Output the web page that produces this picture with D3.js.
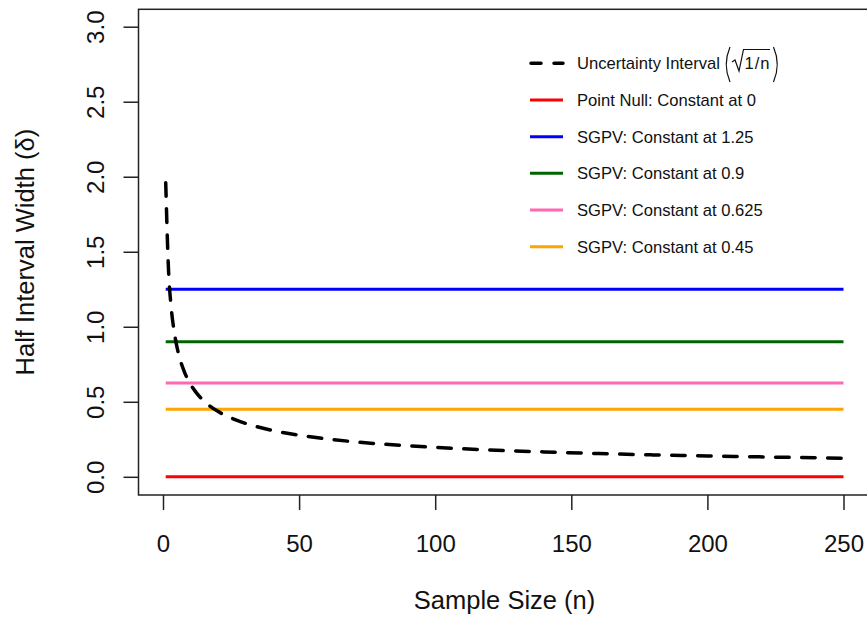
<!DOCTYPE html>
<html>
<head>
<meta charset="utf-8">
<script src="https://cdn.jsdelivr.net/npm/d3@7"></script>
<style>
	body { margin: 0; background: #fff; }
	svg { display: block; font-family: 'Liberation Sans', Arial, Helvetica, sans-serif; }
	.tick line { stroke: #222; stroke-width: 1.5; }
	.tick text { font-size: 24px; fill: #111; }
	.axis-label { font-size: 25.5px; fill: #111; }
	.legend-text { font-size: 16.6px; fill: #111; }
</style>
</head>
<body>
<svg id="chart-svg" width="867" height="621"></svg>
<script>
// values
const X_TICKS = [0, 50, 100, 150, 200, 250];
const Y_TICKS = [0, 0.5, 1, 1.5, 2, 2.5, 3];

// dashed uncertainty curve, read at a few sample sizes
const curveN = [1, 2, 3, 4, 5, 6, 8, 10, 12, 15, 20, 25, 30, 40, 50, 60, 70, 80, 90, 100, 120, 140, 160, 180, 200, 225, 250];
const curveY = [1.96, 1.39, 1.13, 0.98, 0.877, 0.80, 0.693, 0.62, 0.566, 0.506, 0.438, 0.392, 0.358, 0.31, 0.277, 0.253, 0.234, 0.219, 0.207, 0.196, 0.179, 0.166, 0.155, 0.146, 0.139, 0.131, 0.124];

// constant lines
const constNames = ['Point Null: Constant at 0', 'SGPV: Constant at 1.25', 'SGPV: Constant at 0.9', 'SGPV: Constant at 0.625', 'SGPV: Constant at 0.45'];
const constValues = [0, 1.25, 0.9, 0.625, 0.45];
const constColors = ['#ff0000', '#0000ff', '#006400', '#ff69b4', '#ffa500'];
const nRange = [1, 250];

const svg = d3.select('#chart-svg');

const BOX = { left: 138.5, right: 870.6, top: 9.3, bottom: 495 };

const xScale = d3.scaleLinear().domain([0, 250]).range([163, 843.5]);
const yScale = d3.scaleLinear().domain([0, 3]).range([476.8, 26.7]);

// constant lines
constValues.forEach((v, i) => {
	svg
		.append('line')
		.attr('x1', xScale(nRange[0]))
		.attr('x2', xScale(nRange[1]))
		.attr('y1', yScale(v))
		.attr('y2', yScale(v))
		.attr('stroke', constColors[i])
		.attr('stroke-width', 3);
});

// dashed curve
const curveData = curveN.map((n, i) => ({ n: n, y: curveY[i] }));
const line = d3
	.line()
	.x((d) => xScale(d.n))
	.y((d) => yScale(d.y))
	.curve(d3.curveMonotoneX);
svg
	.append('path')
	.datum(curveData)
	.attr('d', line)
	.attr('fill', 'none')
	.attr('stroke', '#000')
	.attr('stroke-width', 3.5)
	.attr('stroke-dasharray', '13.5,12.5')
	.attr('stroke-linecap', 'round');

// box
svg
	.append('rect')
	.attr('x', BOX.left)
	.attr('y', BOX.top)
	.attr('width', BOX.right - BOX.left)
	.attr('height', BOX.bottom - BOX.top)
	.attr('fill', 'none')
	.attr('stroke', '#222')
	.attr('stroke-width', 1.5);

// axes
const xAxis = d3.axisBottom(xScale).tickValues(X_TICKS).tickSize(15).tickFormat(d3.format('d'));
const xG = svg.append('g').attr('transform', 'translate(0, ' + BOX.bottom + ')').call(xAxis);
xG.select('.domain').remove();
xG.selectAll('.tick text').attr('y', 56.5).attr('dy', 0).attr('font-family', null).attr('font-size', null);

const yAxis = d3.axisLeft(yScale).tickValues(Y_TICKS).tickSize(15).tickFormat(d3.format('.1f'));
const yG = svg.append('g').attr('transform', 'translate(' + BOX.left + ', 0)').call(yAxis);
yG.select('.domain').remove();
yG
	.selectAll('.tick text')
	.attr('x', 0)
	.attr('dy', 0)
	.attr('text-anchor', 'middle')
	.attr('transform', 'translate(-35, 0) rotate(-90)')
	.attr('font-family', null)
	.attr('font-size', null);

// axis titles
svg
	.append('text')
	.attr('class', 'axis-label')
	.attr('text-anchor', 'middle')
	.attr('x', (BOX.left + BOX.right) / 2)
	.attr('y', 609)
	.text('Sample Size (n)');
svg
	.append('text')
	.attr('class', 'axis-label')
	.attr('text-anchor', 'middle')
	.attr('transform', 'translate(34, ' + (BOX.top + BOX.bottom) / 2 + ') rotate(-90)')
	.text('Half Interval Width (\u03b4)');

// legend
const legendRows = [63.3, 100, 136.7, 173.3, 210, 246.7];
const legendG = svg.append('g').attr('id', 'legend');
legendG
	.append('line')
	.attr('x1', 531)
	.attr('x2', 563)
	.attr('y1', legendRows[0])
	.attr('y2', legendRows[0])
	.attr('stroke', '#000')
	.attr('stroke-width', 3.5)
	.attr('stroke-dasharray', '10,13')
	.attr('stroke-linecap', 'round');
legendG
	.append('text')
	.attr('class', 'legend-text')
	.attr('x', 577)
	.attr('y', legendRows[0] + 5.8)
	.text('Uncertainty Interval');
// (sqrt(1/n)) drawn by hand
legendG
	.append('path')
	.attr('d', 'M730,47 Q722.5,64.5 730,82')
	.attr('fill', 'none')
	.attr('stroke', '#111')
	.attr('stroke-width', 1.2);
legendG
	.append('path')
	.attr('d', 'M773.5,47 Q781,64.5 773.5,82')
	.attr('fill', 'none')
	.attr('stroke', '#111')
	.attr('stroke-width', 1.2);
legendG
	.append('path')
	.attr('d', 'M732,62 L735,60 L739,71 L743.5,49.5 L770,49.5')
	.attr('fill', 'none')
	.attr('stroke', '#111')
	.attr('stroke-width', 1.2);
legendG
	.append('text')
	.attr('class', 'legend-text')
	.attr('x', 744.5)
	.attr('y', legendRows[0] + 6)
	.attr('letter-spacing', 1)
	.text('1/n');

constNames.forEach((name, i) => {
	const y = legendRows[i + 1];
	legendG
		.append('line')
		.attr('x1', 530)
		.attr('x2', 563)
		.attr('y1', y)
		.attr('y2', y)
		.attr('stroke', constColors[i])
		.attr('stroke-width', 3);
	legendG
		.append('text')
		.attr('class', 'legend-text')
		.attr('x', 577)
		.attr('y', y + 5.8)
		.text(name);
});
</script>
</body>
</html>
